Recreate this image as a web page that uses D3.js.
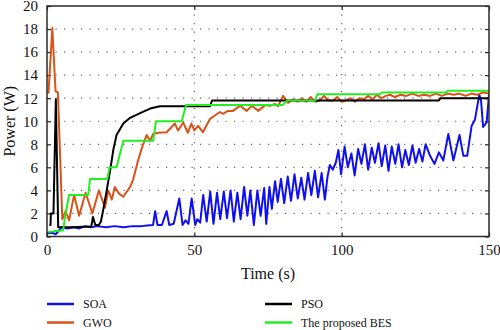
<!DOCTYPE html>
<html>
<head>
<meta charset="utf-8">
<title>Power vs time</title>
<script src="https://cdnjs.cloudflare.com/ajax/libs/d3/7.8.5/d3.min.js"></script>
<style>
  body { margin: 0; background: #fff; }
  svg text { font-family: "Liberation Serif", "DejaVu Serif", serif; fill: #111; }
</style>
</head>
<body>
<div id="chart"></div>
<script>
// series, as [time (s), power (W)]
var soa = [[0,0.3],[2,0.3],[3,0.2],[4,0.5],[5,0.8],[7,0.7],[9,0.8],[11,0.7],[13,0.9],[15,0.8],[17,0.9],[20,0.8],
  [23,0.9],[26,0.8],[29,0.9],[32,0.9],[34,0.95],[36,1.0],[36.7,2.2],[37.5,1.0],[39,1.0],[40.6,2.2],[41.5,1.0],[43,1.1],
  [44.9,3.3],[46,1.0],[47,1.4],[48,1.1],[49.1,3.3],[50.3,1.0],[51,1.5],[52,1.2],[53,3.6],[54.2,1.3],[55.4,3.9],[56.5,1.1],
  [57.7,3.8],[58.8,1.5],[60,3.9],[61.1,1.6],[62.3,4.0],[63.4,1.3],[64.6,3.8],[65.7,1.5],[66.9,4.3],[68,1.8],[69,4.0],
  [70.2,1.0],[71.4,4.0],[72.5,1.8],[73.7,4.2],[74.4,1.1],[75.5,4.3],[76.3,2.4],[77.4,4.8],[78.3,3.0],[79.4,5.0],[80.5,2.9],
  [81.7,5.2],[82.8,3.1],[84,5.4],[85.1,3.3],[86.3,5.1],[87.4,3.2],[88.6,5.5],[89.7,3.6],[90.9,5.7],[92,3.4],[93.2,5.5],
  [94.3,3.2],[95.2,5.2],[96,6.2],[97,5.8],[98,6.4],[98.9,7.5],[99.8,5.4],[101,7.8],[102.1,6.0],[103.3,7.2],[104.4,5.3],
  [105.6,7.6],[106.7,6.3],[107.9,8.0],[109,5.8],[110.2,7.7],[111.3,6.4],[112.5,8.1],[113.6,6.1],[114.8,7.9],[115.9,5.7],
  [117,7.8],[118.2,6.3],[119.3,8.0],[120.5,6.0],[121.6,7.5],[122.8,6.2],[124,7.9],[125.1,6.4],[126.3,7.6],[127.4,6.5],
  [128.5,8.0],[130,7.0],[131.5,6.3],[133,7.3],[134.5,6.6],[136.2,8.9],[137.9,6.6],[140,8.8],[141.3,7.0],[142.6,7.0],
  [144.1,9.6],[145.2,10.1],[146.7,12.3],[147.3,11.8],[148,9.5],[149.2,9.9],[150,12.3]];

var gwo = [[0.5,12.4],[1.8,18.1],[2.9,12.6],[3.7,12.5],[5.2,1.5],[6.3,2.2],[7.5,1.4],[9.2,3.6],[10.9,1.8],[13.1,3.8],
  [15.4,2.0],[17.6,4.0],[19.7,2.5],[20.8,4.0],[22,3.2],[23,4.3],[24.5,3.7],[25.9,3.45],[28.2,4.3],[29.2,4.9],[30.9,6.6],
  [32.1,7.6],[33.8,8.8],[35,8.3],[36,8.9],[37.7,9.0],[40.6,9.05],[43.4,9.8],[44.5,9.2],[46.2,9.9],[47.8,9.0],[49,9.8],
  [50,9.2],[51.3,9.6],[52.9,9.05],[55.3,10.2],[57,10.5],[58.7,10.8],[59.7,10.65],[61.4,10.9],[63.1,10.9],[65.5,11.35],
  [67.8,10.9],[69.5,11.35],[71.7,10.9],[74,11.4],[75.7,11.35],[77.4,11.5],[78.4,11.3],[80.1,12.2],[81.8,11.6],[83.5,11.9],
  [85,11.7],[86.5,12.0],[88,11.7],[89.5,12.1],[91,11.7],[92.5,11.8],[94,12.2],[95.5,11.8],[97,11.8],[98.5,12.1],[100,11.7],
  [101.5,11.8],[103,12.0],[104.5,11.7],[106,12.0],[107.5,11.9],[109,12.2],[110.5,11.9],[112,12.3],[113.5,12.0],[115,12.2],
  [116.5,12.3],[118,12.1],[120,12.3],[122,12.2],[124,12.4],[126,12.2],[128,12.3],[130,12.2],[132,12.4],[134,12.2],
  [136,12.4],[138,12.3],[140,12.4],[142,12.2],[144,12.4],[146,12.3],[148,12.5],[150,12.4]];

var pso = [[0.8,1.0],[1.2,1.0],[1.3,2.0],[2.2,2.0],[3.0,11.9],[3.8,0.8],[6,0.8],[9,0.8],[12,0.85],[15,0.85],[15.6,1.7],
  [16.4,1.0],[17.6,1.0],[18.3,1.3],[19,2.2],[20,3.6],[21.4,5.7],[22.5,7.5],[23.6,8.8],[25.9,9.8],[28.2,10.3],[31.6,10.7],
  [35,11.1],[38.3,11.3],[55.3,11.3],[56,11.8],[133,11.8],[133.5,12.0],[150,12.0]];

var bes = [[0.4,0.4],[5.5,0.55],[6.3,2.0],[7.5,3.6],[14,3.6],[14.6,5.0],[20.5,5.0],[21.2,6.0],[23.6,6.0],[25.9,8.3],
  [36,8.3],[37,10.0],[45.7,10.0],[47.2,11.4],[80,11.4],[81.5,11.8],[91,11.8],[91.8,12.35],[113,12.35],[113.8,12.5],
  [135.4,12.5],[136,12.65],[150,12.65]];

var xTicks = [0, 50, 100, 150];
var yTicks = [0, 2, 4, 6, 8, 10, 12, 14, 16, 18, 20];
var seriesNames = ["SOA", "GWO", "PSO", "The proposed BES"];
var seriesColors = ["#1010ee", "#d95319", "#000000", "#22ee22"];

var W = 500, H = 330;
var pL = 47, pR = 489, pT = 6, pB = 236.5;

var svg = d3.select("#chart").append("svg")
    .attr("width", W).attr("height", H);

var x = d3.scaleLinear().domain([0, 150]).range([pL, pR]);
var y = d3.scaleLinear().domain([0, 20]).range([pB, pT]);

// dotted grid
var grid = svg.append("g");
yTicks.slice(1, -1).forEach(function(v) {
  grid.append("line")
    .attr("x1", pL).attr("x2", pR)
    .attr("y1", y(v)).attr("y2", y(v))
    .style("stroke", "#666").style("stroke-width", 1.2)
    .style("stroke-dasharray", "1.2,7.3");
});
xTicks.slice(1, -1).forEach(function(v) {
  grid.append("line")
    .attr("x1", x(v)).attr("x2", x(v))
    .attr("y1", pT).attr("y2", pB)
    .style("stroke", "#666").style("stroke-width", 1.2)
    .style("stroke-dasharray", "1.2,7.3");
});

// axes, ticks pointing inward
var yAxisL = svg.append("g").attr("transform", "translate(" + pL + ",0)")
    .call(d3.axisLeft(y).tickValues(yTicks).tickSizeInner(-4).tickSizeOuter(0).tickPadding(9));
var yAxisR = svg.append("g").attr("transform", "translate(" + pR + ",0)")
    .call(d3.axisRight(y).tickValues(yTicks).tickSizeInner(-4).tickSizeOuter(0).tickFormat(""));
var xAxisB = svg.append("g").attr("transform", "translate(0," + pB + ")")
    .call(d3.axisBottom(x).tickValues(xTicks).tickSizeInner(-4).tickSizeOuter(0).tickPadding(8));
var xAxisT = svg.append("g").attr("transform", "translate(0," + pT + ")")
    .call(d3.axisTop(x).tickValues(xTicks).tickSizeInner(-4).tickSizeOuter(0).tickFormat(""));

[yAxisL, yAxisR, xAxisB, xAxisT].forEach(function(a) {
  a.select(".domain").remove();
  a.selectAll(".tick line").style("stroke", "#222").style("stroke-width", 1.2);
  a.selectAll("text").style("font-family", "Liberation Serif, serif").style("font-size", "15px").style("fill", "#111");
});

// data lines
var line = d3.line().x(function(d) { return x(d[0]); }).y(function(d) { return y(d[1]); });
svg.append("clipPath").attr("id", "clip").append("rect")
  .attr("x", pL).attr("y", pT).attr("width", pR - pL).attr("height", pB - pT);

var plot = svg.append("g").attr("clip-path", "url(#clip)");
[soa, gwo, pso, bes].forEach(function(s, i) {
  plot.append("path").datum(s)
    .attr("d", line)
    .style("fill", "none")
    .style("stroke", seriesColors[i])
    .style("stroke-width", 2)
    .style("stroke-linejoin", "round");
});

// frame
svg.append("rect")
  .attr("x", pL).attr("y", pT)
  .attr("width", pR - pL).attr("height", pB - pT)
  .style("fill", "none").style("stroke", "#2a2a2a").style("stroke-width", 1.5);

// axis titles
svg.append("text")
  .attr("x", (pL + pR) / 2).attr("y", 279)
  .attr("text-anchor", "middle")
  .style("font-size", "16px")
  .text("Time (s)");
svg.append("text")
  .attr("transform", "translate(15," + ((pT + pB) / 2) + ") rotate(-90)")
  .attr("text-anchor", "middle")
  .style("font-size", "16px")
  .text("Power (W)");

// legend, two columns
var legPos = [[47, 304], [47, 322.5], [265, 304], [265, 322.5]];
seriesNames.forEach(function(n, i) {
  var g = svg.append("g").attr("transform", "translate(" + legPos[i][0] + "," + legPos[i][1] + ")");
  g.append("line").attr("x1", 0).attr("x2", 27).attr("y1", 0).attr("y2", 0)
    .style("stroke", seriesColors[i]).style("stroke-width", 2.5);
  g.append("text").attr("x", 36).attr("y", 0).attr("dy", "0.35em")
    .style("font-size", "12px")
    .text(n);
});
</script>
</body>
</html>
